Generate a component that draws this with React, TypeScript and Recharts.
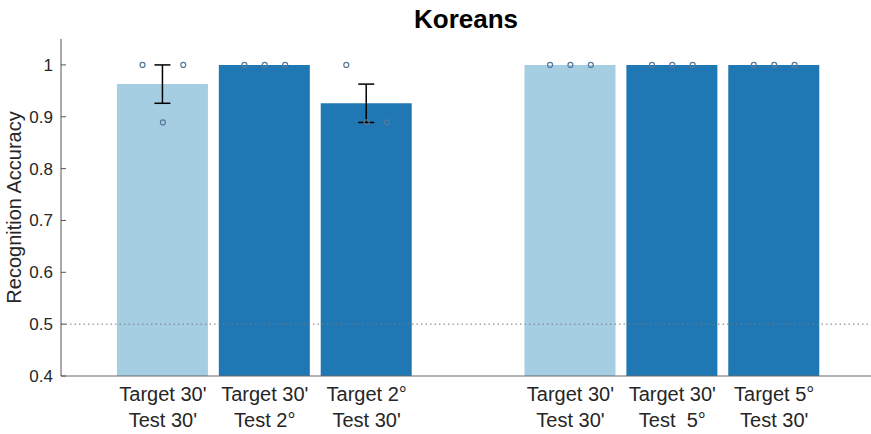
import { ComposedChart, Bar, Cell, ErrorBar, Scatter, XAxis, YAxis, ReferenceLine } from 'recharts';

const conditions = [1, 2, 3, 5, 6, 7];
const targetLabels = ["Target 30'", "Target 30'", 'Target 2°', "Target 30'", "Target 30'", 'Target 5°'];
const testLabels = ["Test 30'", 'Test 2°', "Test 30'", "Test 30'", 'Test  5°', "Test 30'"];
const meanAccuracy = [0.963, 1, 0.926, 1, 1, 1];
const semAccuracy = [0.037, 0, 0.037, 0, 0, 0];
// one value per subject, three subjects
const subjectAccuracy = [
  [1, 0.889, 1],
  [1, 1, 1],
  [1, 0.889, 0.889],
  [1, 1, 1],
  [1, 1, 1],
  [1, 1, 1],
];
const yTicks = [0.4, 0.5, 0.6, 0.7, 0.8, 0.9, 1];

const LIGHT = '#a6cee3';
const DARK = '#1f78b4';
const FONT = '"Liberation Sans", Arial, sans-serif';
const X_DOMAIN: [number, number] = [0, 7.95];

const sizeOf = (s: string) => s.replace(/^(Target|Test)\s+/, '');

const bars = conditions.map((x, i) => ({
  x,
  acc: meanAccuracy[i],
  sem: semAccuracy[i],
  same: sizeOf(targetLabels[i]) === sizeOf(testLabels[i]),
}));

// subjects spread a little left/right of their bar centre
const points = conditions.flatMap((x, i) =>
  subjectAccuracy[i].map((acc, j) => ({ x: x + (j - 1) * 0.2, acc }))
);

const XTick = (props: any) => {
  const i = conditions.indexOf(props.payload.value);
  if (i < 0) return null;
  return (
    <text x={props.x} y={props.y} textAnchor="middle" fill="#262626" fontSize={20} fontFamily={FONT} style={{ whiteSpace: 'pre' }}>
      <tspan x={props.x} dy={23}>{targetLabels[i]}</tspan>
      <tspan x={props.x} dy={26}>{testLabels[i]}</tspan>
    </text>
  );
};

const YTick = (props: any) => {
  const v = props.payload.value;
  return (
    <g>
      <line x1={props.x + 8} x2={props.x + 13} y1={props.y} y2={props.y} stroke="#555" />
      <text x={props.x} y={props.y} dy={6} textAnchor="end" fill="#262626" fontSize={17} fontFamily={FONT}>
        {v === 1 ? '1' : v.toFixed(1)}
      </text>
    </g>
  );
};

const Dot = (props: any) => (
  <circle cx={props.cx} cy={props.cy} r={2.5} fill="none" stroke="#56789a" strokeWidth={1.2} />
);

export default function App() {
  return (
    <div style={{ position: 'absolute', left: 0, top: 0, width: 871, height: 434, background: '#fff' }}>
      <div
        style={{
          position: 'absolute',
          left: 61,
          width: 810,
          top: 4,
          textAlign: 'center',
          fontFamily: FONT,
          fontWeight: 'bold',
          fontSize: 26,
          color: '#000',
        }}
      >
        Koreans
      </div>
      <ComposedChart width={871} height={434} data={bars} margin={{ top: 39, right: 0, left: 0, bottom: 0 }}>
        <XAxis
          type="number"
          dataKey="x"
          domain={X_DOMAIN}
          ticks={conditions}
          interval={0}
          tickLine={false}
          tickSize={0}
          axisLine={{ stroke: '#666' }}
          tick={<XTick />}
          height={58}
        />
        <XAxis xAxisId="subjects" type="number" dataKey="x" domain={X_DOMAIN} hide />
        <YAxis
          dataKey="acc"
          domain={[0.4, 1.05]}
          ticks={yTicks}
          width={61}
          tickLine={false}
          tickSize={0}
          tickMargin={8}
          axisLine={{ stroke: '#555' }}
          tick={<YTick />}
          label={{
            value: 'Recognition Accuracy',
            angle: -90,
            position: 'insideLeft',
            dx: 9,
            dy: 0,
            style: { textAnchor: 'middle', fill: '#262626', fontSize: 20, fontFamily: FONT },
          }}
        />
        <ReferenceLine y={0.5} stroke="#777" strokeDasharray="1.5 3" />
        <Bar dataKey="acc" barSize={91} isAnimationActive={false}>
          {bars.map((b, i) => (
            <Cell key={i} fill={b.same ? LIGHT : DARK} />
          ))}
          <ErrorBar dataKey="sem" width={8} stroke="#000" strokeWidth={1.5} direction="y" />
        </Bar>
        <Scatter xAxisId="subjects" data={points} dataKey="acc" shape={<Dot />} isAnimationActive={false} />
      </ComposedChart>
    </div>
  );
}
